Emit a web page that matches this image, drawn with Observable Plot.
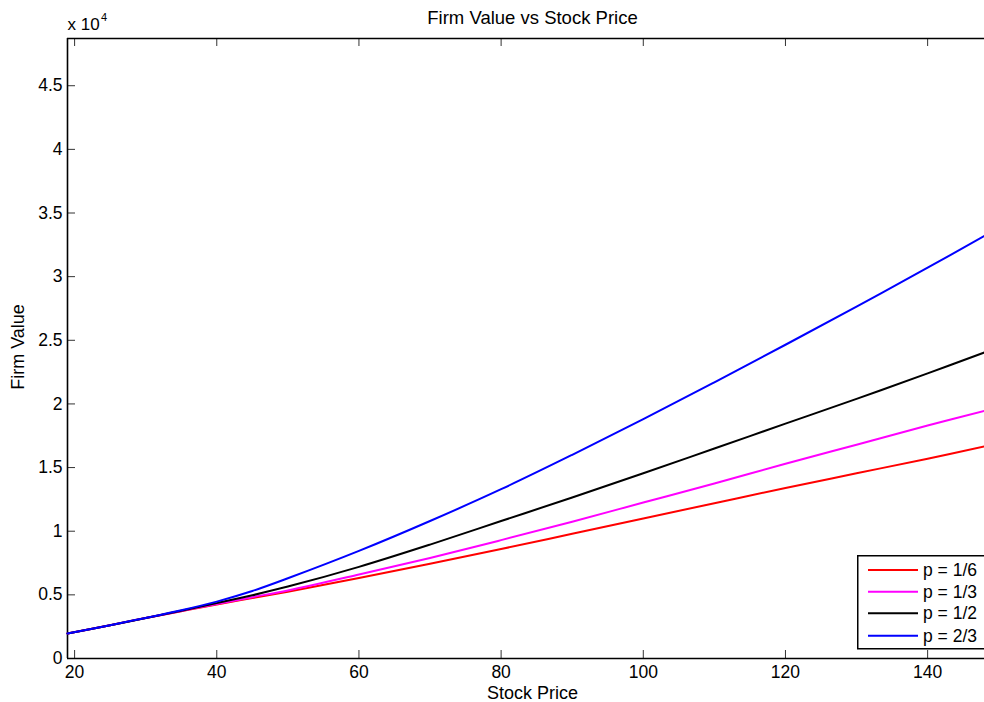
<!DOCTYPE html>
<html>
<head>
<meta charset="utf-8">
<script src="https://cdn.jsdelivr.net/npm/d3@7"></script>
<script src="https://cdn.jsdelivr.net/npm/@observablehq/plot@0.6"></script>
<style>
  html, body { margin: 0; padding: 0; background: #fff; }
  #wrap { position: relative; width: 984px; height: 702px; overflow: hidden; font-family: "Liberation Sans", Arial, Helvetica, sans-serif; }
  #legend { position: absolute; left: 857px; top: 555px; }
</style>
</head>
<body>
<div id="wrap"></div>
<script>
// Stock price grid and firm value for each exercise probability p
const stockPrice = [19, 25, 30, 35, 40, 45, 50, 60, 70, 80, 90, 100, 110, 120, 130, 140, 148];
const valueP1_6 = [1960, 2620, 3180, 3720, 4250, 4750, 5250, 6330, 7450, 8600, 9800, 11000, 12200, 13400, 14550, 15700, 16670];
const valueP1_3 = [1960, 2620, 3180, 3730, 4280, 4820, 5350, 6600, 7900, 9300, 10750, 12250, 13750, 15300, 16800, 18300, 19450];
const valueP1_2 = [1960, 2620, 3180, 3750, 4350, 4970, 5650, 7200, 8950, 10800, 12650, 14550, 16500, 18450, 20400, 22400, 24050];
const valueP2_3 = [1960, 2620, 3190, 3790, 4470, 5300, 6300, 8450, 10800, 13300, 16000, 18800, 21700, 24650, 27650, 30700, 33200];

const seriesNames = ["p = 1/6", "p = 1/3", "p = 1/2", "p = 2/3"];
const seriesColors = ["#ff0000", "#ff00ff", "#000000", "#0000ff"];
const seriesValues = [valueP1_6, valueP1_3, valueP1_2, valueP2_3];

const xTicks = [20, 40, 60, 80, 100, 120, 140];
const yTicks = [0, 5000, 10000, 15000, 20000, 25000, 30000, 35000, 40000, 45000];

const xDomain = [19, 148];
const yDomain = [0, 48710];

const rows = seriesNames.flatMap((name, i) =>
  stockPrice.map((s, j) => ({series: name, price: s, value: seriesValues[i][j]}))
);

const W = 984, H = 702;
const mTop = 38, mBottom = 44, mLeft = 67, mRight = 0;
const innerW = W - mLeft - mRight, innerH = H - mTop - mBottom;
const font = '"Liberation Sans", Arial, Helvetica, sans-serif';

const chart = Plot.plot({
  width: W,
  height: H,
  marginTop: mTop,
  marginBottom: mBottom,
  marginLeft: mLeft,
  marginRight: mRight,
  style: {fontFamily: font, fontSize: "17.5px", background: "#fff", color: "#000"},
  x: {domain: xDomain},
  y: {domain: yDomain},
  color: {domain: seriesNames, range: seriesColors},
  marks: [
    // inward tick marks on bottom, top and left edges
    Plot.tickX(xTicks, {x: d => d, insetTop: innerH - 8, stroke: "#333", strokeWidth: 1}),
    Plot.tickX(xTicks, {x: d => d, insetBottom: innerH - 8, stroke: "#333", strokeWidth: 1}),
    Plot.tickY(yTicks, {y: d => d, insetRight: innerW - 8, stroke: "#333", strokeWidth: 1}),
    Plot.axisX(xTicks, {tickSize: 0, tickPadding: 7, label: null, fontSize: 17.5}),
    Plot.axisY(yTicks, {tickSize: 0, tickPadding: 5, label: null, fontSize: 17.5, tickFormat: d => String(d / 1e4)}),
    // box edges
    Plot.ruleY([yDomain[0]], {stroke: "#000", strokeWidth: 1.6}),
    Plot.ruleY([yDomain[1]], {stroke: "#000", strokeWidth: 1.6}),
    Plot.ruleX([xDomain[0]], {stroke: "#000", strokeWidth: 1.6}),
    // curves
    Plot.line(rows, {x: "price", y: "value", z: "series", stroke: "series", strokeWidth: 2, curve: "catmull-rom"}),
    // titles and labels
    Plot.text(["Firm Value vs Stock Price"], {text: d => d, frameAnchor: "top", lineAnchor: "middle", textAnchor: "middle", dx: 6.5, dy: -20, fontSize: 18.5}),
    Plot.text(["Stock Price"], {text: d => d, frameAnchor: "bottom", lineAnchor: "middle", textAnchor: "middle", dx: 6.5, dy: 35, fontSize: 18}),
    Plot.text(["Firm Value"], {text: d => d, frameAnchor: "left", lineAnchor: "middle", textAnchor: "middle", dx: -49, dy: -1.5, rotate: -90, fontSize: 18}),
    Plot.text(["x 10"], {text: d => d, frameAnchor: "top-left", lineAnchor: "middle", textAnchor: "start", dx: 0, dy: -14, fontSize: 17}),
    Plot.text(["4"], {text: d => d, frameAnchor: "top-left", lineAnchor: "middle", textAnchor: "start", dx: 33.5, dy: -21.5, fontSize: 11})
  ]
});

const wrap = document.getElementById("wrap");
wrap.appendChild(chart);

// legend box in the lower right corner of the axes
const lg = d3.select(wrap).append("svg")
  .attr("id", "legend")
  .attr("width", 140)
  .attr("height", 96);
lg.append("rect")
  .attr("x", 0.75).attr("y", 0.75)
  .attr("width", 160).attr("height", 93)
  .attr("fill", "#fff").attr("stroke", "#000").attr("stroke-width", 1.5);
const rowY = [15, 36.7, 58.3, 80.7];
seriesNames.forEach((name, i) => {
  lg.append("line")
    .attr("x1", 11).attr("x2", 61)
    .attr("y1", rowY[i]).attr("y2", rowY[i])
    .attr("stroke", seriesColors[i]).attr("stroke-width", 2);
  lg.append("text")
    .attr("x", 66).attr("y", rowY[i])
    .attr("dy", "0.35em")
    .attr("font-size", 17.5)
    .attr("font-family", font)
    .text(name);
});
</script>
</body>
</html>
